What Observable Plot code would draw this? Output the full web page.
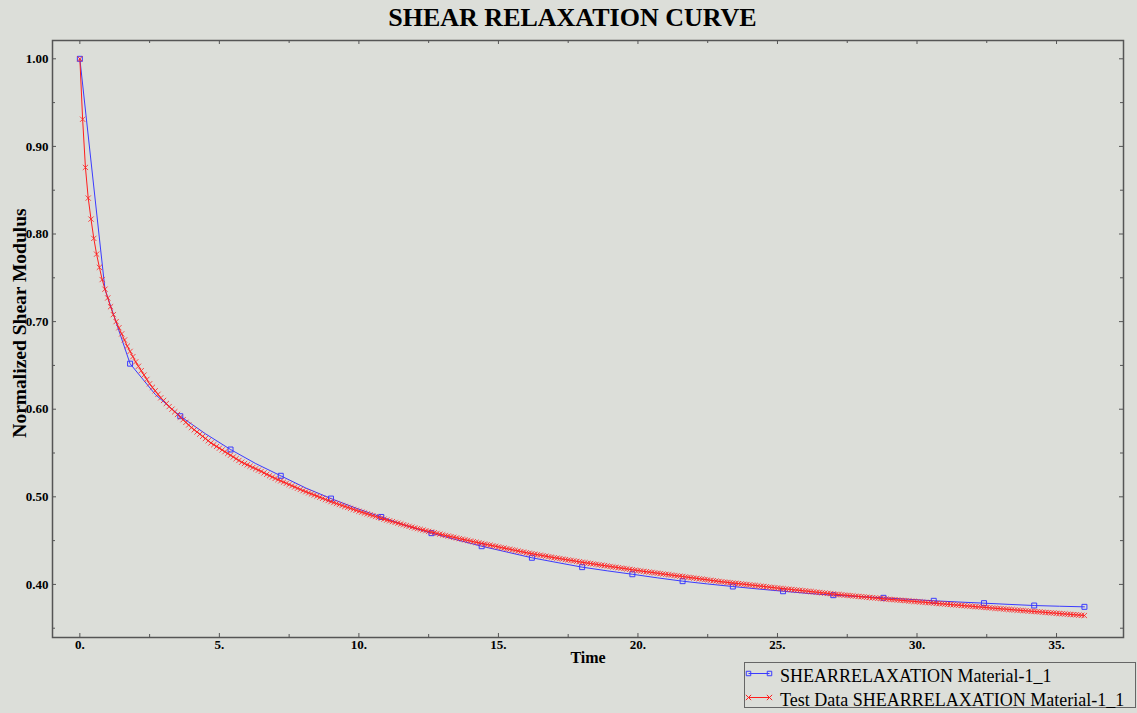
<!DOCTYPE html>
<html>
<head>
<meta charset="utf-8">
<script src="https://cdn.jsdelivr.net/npm/d3@7"></script>
<script src="https://cdn.jsdelivr.net/npm/@observablehq/plot@0.6"></script>
<style>
  html, body { margin: 0; padding: 0; background: #dcded9; }
  #wrap { position: relative; width: 1137px; height: 713px; overflow: hidden;
          font-family: "Liberation Serif", "Times New Roman", serif; background: #dcded9; }
  #title { position: absolute; left: 4px; top: 5px; width: 1137px; text-align: center;
           font-weight: bold; font-size: 26px; line-height: 26px; color: #000; }
  #chart { position: absolute; left: 0; top: 0; }
  #legend { position: absolute; left: 0; top: 0; pointer-events: none; }
</style>
</head>
<body>
<div id="wrap">
  <div id="chart"></div>
  <div id="title">SHEAR RELAXATION CURVE</div>
  <svg id="legend" width="1137" height="713"></svg>
</div>
<script>
// ---------- data ----------
const titleText = "SHEAR RELAXATION CURVE";
const xLabel = "Time";
const yLabel = "Normalized Shear Modulus";
const seriesNames = ["SHEARRELAXATION Material-1_1", "Test Data SHEARRELAXATION Material-1_1"];

// x / y tick values
const xMajorTicks = [0, 5, 10, 15, 20, 25, 30, 35];
const xMinorTicks = [2.5, 7.5, 12.5, 17.5, 22.5, 27.5, 32.5];
const yMajorTicks = [0.4, 0.5, 0.6, 0.7, 0.8, 0.9, 1.0];
const yMinorTicks = [0.35, 0.45, 0.55, 0.65, 0.75, 0.85, 0.95];

// fitted curve (SHEARRELAXATION Material-1_1): line vertices every 0.9, markers every 1.8
const fitTime = [0, 0.9, 1.8, 2.7, 3.6, 4.5, 5.4, 6.3, 7.2, 8.1, 9.0, 9.9, 10.8, 11.7, 12.6, 13.5, 14.4, 15.3,
  16.2, 17.1, 18.0, 18.9, 19.8, 20.7, 21.6, 22.5, 23.4, 24.3, 25.2, 26.1, 27.0, 27.9, 28.8, 29.7, 30.6, 31.5,
  32.4, 33.3, 34.2, 35.1, 36.0];
const fitModulus = [1.000, 0.737, 0.652, 0.617, 0.592, 0.572, 0.554, 0.538, 0.524, 0.510, 0.498, 0.487, 0.477,
  0.467, 0.4585, 0.451, 0.4436, 0.437, 0.4304, 0.425, 0.4197, 0.4155, 0.4116, 0.4075, 0.4037, 0.4005, 0.3976,
  0.3948, 0.3922, 0.3897, 0.3877, 0.3862, 0.3847, 0.383, 0.3813, 0.3799, 0.3786, 0.3772, 0.3759, 0.3751, 0.3744];

// test data (Test Data SHEARRELAXATION Material-1_1)
const testTime = [
  0,.1,.2,.3,.4,.5,.6,.7,.8,.9, 1,1.1,1.2,1.3,1.4,1.5,1.6,1.7,1.8,1.9,
  2,2.1,2.2,2.3,2.4,2.5,2.6,2.7,2.8,2.9, 3,3.1,3.2,3.3,3.4,3.5,3.6,3.7,3.8,3.9,
  4,4.1,4.2,4.3,4.4,4.5,4.6,4.7,4.8,4.9, 5,5.1,5.2,5.3,5.4,5.5,5.6,5.7,5.8,5.9,
  6,6.1,6.2,6.3,6.4,6.5,6.6,6.7,6.8,6.9, 7,7.1,7.2,7.3,7.4,7.5,7.6,7.7,7.8,7.9,
  8,8.1,8.2,8.3,8.4,8.5,8.6,8.7,8.8,8.9, 9,9.1,9.2,9.3,9.4,9.5,9.6,9.7,9.8,9.9,
  10,10.1,10.2,10.3,10.4,10.5,10.6,10.7,10.8,10.9, 11,11.1,11.2,11.3,11.4,11.5,11.6,11.7,11.8,11.9,
  12,12.1,12.2,12.3,12.4,12.5,12.6,12.7,12.8,12.9, 13,13.1,13.2,13.3,13.4,13.5,13.6,13.7,13.8,13.9,
  14,14.1,14.2,14.3,14.4,14.5,14.6,14.7,14.8,14.9, 15,15.1,15.2,15.3,15.4,15.5,15.6,15.7,15.8,15.9,
  16,16.1,16.2,16.3,16.4,16.5,16.6,16.7,16.8,16.9, 17,17.1,17.2,17.3,17.4,17.5,17.6,17.7,17.8,17.9,
  18,18.1,18.2,18.3,18.4,18.5,18.6,18.7,18.8,18.9, 19,19.1,19.2,19.3,19.4,19.5,19.6,19.7,19.8,19.9,
  20,20.1,20.2,20.3,20.4,20.5,20.6,20.7,20.8,20.9, 21,21.1,21.2,21.3,21.4,21.5,21.6,21.7,21.8,21.9,
  22,22.1,22.2,22.3,22.4,22.5,22.6,22.7,22.8,22.9, 23,23.1,23.2,23.3,23.4,23.5,23.6,23.7,23.8,23.9,
  24,24.1,24.2,24.3,24.4,24.5,24.6,24.7,24.8,24.9, 25,25.1,25.2,25.3,25.4,25.5,25.6,25.7,25.8,25.9,
  26,26.1,26.2,26.3,26.4,26.5,26.6,26.7,26.8,26.9, 27,27.1,27.2,27.3,27.4,27.5,27.6,27.7,27.8,27.9,
  28,28.1,28.2,28.3,28.4,28.5,28.6,28.7,28.8,28.9, 29,29.1,29.2,29.3,29.4,29.5,29.6,29.7,29.8,29.9,
  30,30.1,30.2,30.3,30.4,30.5,30.6,30.7,30.8,30.9, 31,31.1,31.2,31.3,31.4,31.5,31.6,31.7,31.8,31.9,
  32,32.1,32.2,32.3,32.4,32.5,32.6,32.7,32.8,32.9, 33,33.1,33.2,33.3,33.4,33.5,33.6,33.7,33.8,33.9,
  34,34.1,34.2,34.3,34.4,34.5,34.6,34.7,34.8,34.9, 35,35.1,35.2,35.3,35.4,35.5,35.6,35.7,35.8,35.9,
  36];
const testModulus = [
  1.000,.931,.876,.841,.817,.795,.777,.762,.748,.737, .727,.717,.708,.700,.693,.686,.679,.672,.666,.660,
  .654,.649,.644,.639,.634,.629,.625,.621,.617,.613, .610,.6065,.603,.600,.597,.594,.591,.588,.585,.582,
  .579,.5765,.574,.5715,.569,.5665,.564,.5615,.5595,.5575, .5555,.5535,.5515,.5495,.5475,.5455,.5435,.5415,.5395,.538,
  .5365,.535,.5335,.532,.5305,.529,.5273,.5257,.5241,.5226, .521,.5196,.5182,.5168,.5154,.514,.5126,.5112,.5098,.5084,
  .507,.5058,.5045,.5033,.502,.5008,.4995,.4983,.497,.4958, .4945,.4934,.4923,.4912,.4901,.489,.4879,.4868,.4857,.4846,
  .4835,.4825,.4815,.4805,.4795,.4785,.4775,.4765,.4755,.4745, .4735,.4726,.4717,.4708,.4699,.469,.4681,.4672,.4663,.4654,
  .4645,.4637,.4629,.4621,.4613,.4605,.4598,.459,.4582,.4574, .4566,.4559,.4552,.4545,.4538,.4531,.4523,.4516,.4509,.4502,
  .4495,.4488,.4481,.4475,.4468,.4461,.4455,.4448,.4441,.4435, .4428,.4421,.4415,.4408,.4402,.4395,.4388,.4382,.4375,.4369,
  .4362,.4356,.4351,.4345,.4339,.4334,.4328,.4322,.4316,.4311, .4305,.43,.4295,.4289,.4284,.4279,.4274,.4269,.4263,.4258,
  .4253,.4248,.4243,.4239,.4234,.4229,.4224,.4219,.4215,.421, .4205,.42,.4196,.4191,.4186,.4182,.4177,.4172,.4167,.4163,
  .4158,.4154,.4149,.4145,.4141,.4137,.4132,.4128,.4124,.4119, .4115,.4111,.4107,.4102,.4098,.4094,.409,.4086,.4081,.4077,
  .4073,.4069,.4064,.406,.4056,.4052,.4047,.4043,.4039,.4034, .403,.4027,.4023,.402,.4016,.4013,.4009,.4006,.4002,.3999,
  .3995,.3991,.3988,.3984,.398,.3977,.3973,.3969,.3965,.3962, .3958,.3955,.3951,.3948,.3945,.3942,.3938,.3935,.3932,.3928,
  .3925,.3922,.3918,.3915,.3911,.3908,.3904,.3901,.3897,.3894, .389,.3887,.3884,.3881,.3878,.3875,.3872,.3869,.3866,.3863,
  .386,.3857,.3854,.3851,.3848,.3845,.3842,.3839,.3836,.3833, .383,.3827,.3825,.3822,.3819,.3817,.3814,.3811,.3809,.3806,
  .3803,.38,.3798,.3795,.3792,.379,.3787,.3784,.3781,.3779, .3776,.3773,.3771,.3768,.3765,.3763,.376,.3757,.3754,.3752,
  .3749,.3746,.3744,.3741,.3738,.3736,.3733,.373,.3727,.3725, .3722,.3719,.3717,.3714,.3712,.3709,.3706,.3704,.3701,.3699,
  .3696,.3693,.3691,.3688,.3686,.3683,.368,.3678,.3675,.3673, .367,.3668,.3665,.3663,.366,.3658,.3655,.3653,.365,.3648,
  .3645];

// ---------- build tables ----------
const fitData = fitTime.map((t, i) => ({t, g: fitModulus[i]}));
const fitMarkers = fitData.filter((d, i) => i % 2 === 0);
const testData = testTime.map((t, i) => ({t, g: testModulus[i]}));

const BLUE = "#3b3bff";
const RED = "#ff1e1e";
const AXIS = "#555";
const FONT = '"Liberation Serif", "Times New Roman", serif';

const W = 1137, H = 713;
const mT = 40, mL = 52, mR = 14, mB = 76;
const innerH = H - mT - mB, innerW = W - mL - mR;

const plot = Plot.plot({
  width: W, height: H,
  marginTop: mT, marginLeft: mL, marginRight: mR, marginBottom: mB,
  style: {background: "transparent", fontFamily: FONT, color: "#000", overflow: "visible"},
  x: {domain: [-0.98, 37.4], axis: null},
  y: {domain: [0.3394, 1.0209], axis: null},
  marks: [
    // ticks (inward)
    Plot.ruleX(xMajorTicks, {x: d => d, stroke: AXIS, insetTop: innerH - 4}),
    Plot.ruleX(xMinorTicks, {x: d => d, stroke: AXIS, insetTop: innerH - 3}),
    Plot.ruleX(xMajorTicks, {x: d => d, stroke: AXIS, insetBottom: innerH - 4}),
    Plot.ruleX(xMinorTicks, {x: d => d, stroke: AXIS, insetBottom: innerH - 3}),
    Plot.ruleY(yMajorTicks, {y: d => d, stroke: AXIS, insetRight: innerW - 4}),
    Plot.ruleY(yMinorTicks, {y: d => d, stroke: AXIS, insetRight: innerW - 3}),
    Plot.ruleY(yMajorTicks, {y: d => d, stroke: AXIS, insetLeft: innerW - 4}),
    Plot.ruleY(yMinorTicks, {y: d => d, stroke: AXIS, insetLeft: innerW - 3}),
    Plot.frame({stroke: AXIS, strokeWidth: 1.5}),
    // tick labels
    Plot.text(xMajorTicks, {x: d => d, frameAnchor: "bottom", lineAnchor: "middle", textAnchor: "middle", dy: 7,
      text: d => d + ".", fontWeight: "bold", fontSize: 13, fill: "#000"}),
    Plot.text(yMajorTicks, {y: d => d, frameAnchor: "left", lineAnchor: "middle", dx: -4, textAnchor: "end",
      text: d => d3.format(".2f")(d), fontWeight: "bold", fontSize: 13, fill: "#000"}),
    // axis titles
    Plot.text([xLabel], {frameAnchor: "bottom", lineAnchor: "middle", textAnchor: "middle", dy: 20,
      text: d => d, fontWeight: "bold", fontSize: 16, fill: "#000"}),
    Plot.text([yLabel], {frameAnchor: "left", lineAnchor: "middle", textAnchor: "middle", dx: -33, dy: -16,
      rotate: -90, text: d => d, fontWeight: "bold", fontSize: 19.5, fill: "#000"}),
    // fitted curve
    Plot.line(fitData, {x: "t", y: "g", stroke: BLUE, strokeWidth: 1}),
    Plot.dot(fitMarkers, {x: "t", y: "g", symbol: "square", r: 2.8, stroke: BLUE, fill: "none", strokeWidth: 1}),
    // test data
    Plot.line(testData, {x: "t", y: "g", stroke: RED, strokeWidth: 1}),
    Plot.dot(testData, {x: "t", y: "g", symbol: "times", r: 2.5, stroke: RED, strokeWidth: 1, strokeOpacity: 0.8})
  ]
});
document.getElementById("chart").appendChild(plot);
document.getElementById("title").textContent = titleText;

// ---------- legend ----------
const lg = d3.select("#legend");
lg.append("rect").attr("x", 744.5).attr("y", 662.5).attr("width", 391).attr("height", 45)
  .attr("fill", "none").attr("stroke", "#666").attr("stroke-width", 1);
const rows = [
  {name: seriesNames[0], color: BLUE, sym: d3.symbolSquare, size: 20, ly: 673.5, ty: 681.5},
  {name: seriesNames[1], color: RED, sym: d3.symbolTimes, size: 20, ly: 697.5, ty: 705.5}
];
rows.forEach(r => {
  lg.append("line").attr("x1", 748.5).attr("x2", 769.5).attr("y1", r.ly).attr("y2", r.ly)
    .attr("stroke", r.color).attr("stroke-width", 1);
  [748.5, 769.5].forEach(x => {
    lg.append("path").attr("d", d3.symbol(r.sym, r.size)()).attr("transform", `translate(${x},${r.ly})`)
      .attr("fill", "none").attr("stroke", r.color).attr("stroke-width", 1);
  });
  lg.append("text").attr("x", 780).attr("y", r.ty).attr("font-family", FONT).attr("font-size", 18)
    .attr("fill", "#000").text(r.name);
});
</script>
</body>
</html>
